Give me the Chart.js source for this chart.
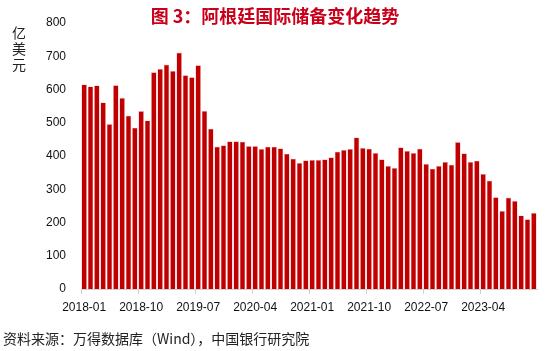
<!DOCTYPE html>
<html>
<head>
<meta charset="utf-8">
<script src="https://cdn.jsdelivr.net/npm/chart.js@4"></script>
<style>
  html, body { margin: 0; padding: 0; background: #fff; }
  #wrap { position: relative; width: 550px; height: 351px; overflow: hidden; }
  #c { position: absolute; left: 0; top: 0; }
  .title { position: absolute; left: 0; top: 4px; width: 550px; text-align: center;
    font: bold 18px "Noto Sans CJK SC", sans-serif; color: #c8001a; line-height: 22px; }
  .ytitle { position: absolute; left: 12px; top: 24px; width: 16px;
    font: 14px "Noto Sans CJK SC", sans-serif; color: #222; line-height: 16px; }
  .src { position: absolute; left: 3px; top: 329px;
    font: 14px "Noto Sans CJK SC", sans-serif; color: #222; line-height: 18px; }
</style>
</head>
<body>
<div id="wrap">
  <canvas id="c" width="550" height="351"></canvas>
  <div class="title">图 3：阿根廷国际储备变化趋势</div>
  <div class="ytitle">亿<br>美<br>元</div>
  <div class="src">资料来源：万得数据库（Wind），中国银行研究院</div>
</div>
<script>
// monthly months 2018-01 .. 2023-12
const months = [];
for (let y = 2018; y <= 2023; y++) {
  for (let m = 1; m <= 12; m++) months.push(y + '-' + String(m).padStart(2, '0'));
}

// 国际储备（亿美元）
const reserves = [
  615, 609, 612, 561, 496, 613, 575, 521, 485, 535, 507, 652,
  662, 675, 656, 711, 643, 637, 673, 536, 482, 428, 432, 444,
  444, 443, 430, 430, 421, 428, 428, 423, 407, 392, 379, 387,
  388, 388, 390, 396, 413, 418, 421, 456, 424, 422, 409, 390,
  370, 364, 426, 415, 409, 422, 376, 362, 370, 382, 374, 442,
  408, 382, 386, 346, 326, 276, 235, 275, 265, 221, 210, 229,
];

const yTicks = [0, 100, 200, 300, 400, 500, 600, 700, 800];
const LABEL_EVERY = 9;

new Chart(document.getElementById('c'), {
  type: 'bar',
  data: {
    labels: months,
    datasets: [{
      data: reserves,
      backgroundColor: '#c00000',
      borderColor: 'rgba(240,170,170,0.9)',
      borderWidth: 0.6,
      barPercentage: 0.88,
      categoryPercentage: 1,
    }],
  },
  options: {
    responsive: false, animation: false,
    layout: { padding: { left: 0, right: 13, top: 23, bottom: 0 } },
    plugins: { legend: { display: false }, tooltip: { enabled: false } },
    scales: {
      x: {
        offset: true,
        afterFit: s => { s.height = 62; },
        grid: {
          offset: true, drawOnChartArea: false, drawTicks: true, tickLength: 5,
          color: ctx => (ctx.index % LABEL_EVERY === 0 ? '#d0d0d0' : 'rgba(0,0,0,0)'),
        },
        border: { color: '#d0d0d0' },
        ticks: {
          autoSkip: false, maxRotation: 0, padding: 6, color: '#111',
          font: { family: 'Liberation Sans, Arial', size: 12 },
          callback: (v, i) => (i % LABEL_EVERY === 0 ? months[i] : ''),
        },
      },
      y: {
        min: 0, max: 800,
        afterFit: s => { s.width = 81; },
        afterBuildTicks: s => { s.ticks = yTicks.map(v => ({ value: v })); },
        grid: { display: false, drawTicks: false },
        border: { display: false },
        ticks: { padding: 15, color: '#111', font: { family: 'Liberation Sans, Arial', size: 12 } },
      },
    },
  },
});
</script>
</body>
</html>
